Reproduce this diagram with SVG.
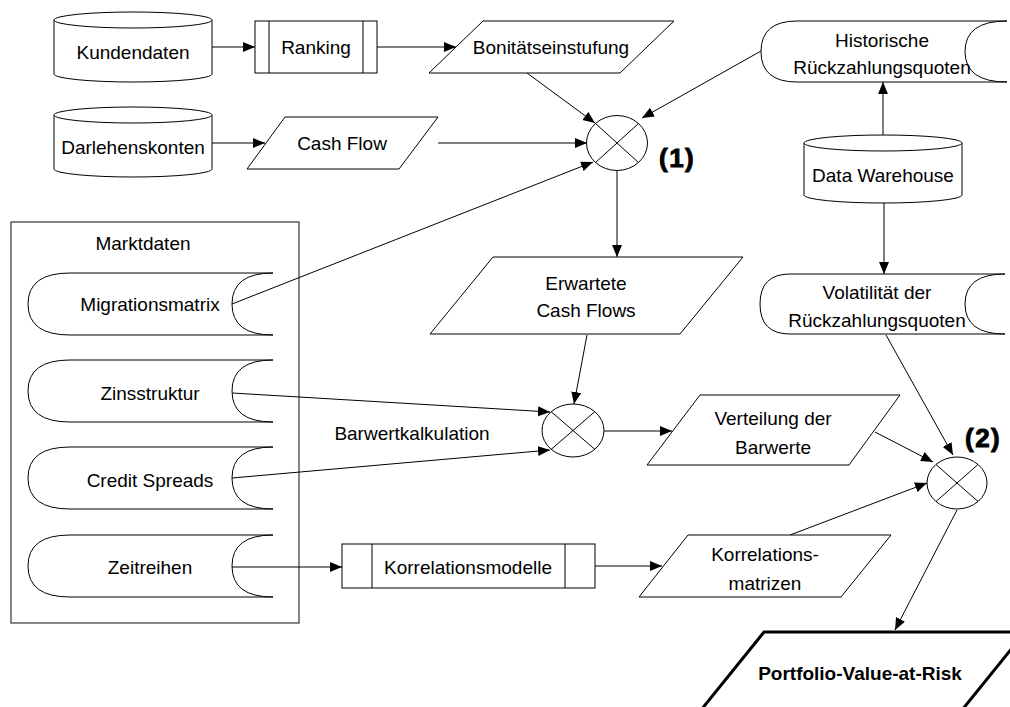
<svg xmlns="http://www.w3.org/2000/svg" width="1010" height="707" viewBox="0 0 1010 707">
<defs>
<marker id="arr" markerUnits="userSpaceOnUse" markerWidth="13" markerHeight="11" refX="12" refY="5" orient="auto">
<path d="M0,0 L12,5 L0,10 Z" fill="#000"/>
</marker>
<style>
.s{fill:#fff;stroke:#000;stroke-width:1}
.t{font-family:"Liberation Sans",Arial,sans-serif;font-size:19px;fill:#000;text-anchor:middle}
.b{font-weight:bold}
.n{font-family:"Liberation Sans",Arial,sans-serif;font-size:26px;font-weight:bold;fill:#000;stroke:#000;stroke-width:0.9;letter-spacing:1.5px}
.c{fill:none;stroke:#000;stroke-width:1;marker-end:url(#arr)}
.l{fill:none;stroke:#000;stroke-width:1}
</style>
</defs>
<rect width="1010" height="707" fill="#fff"/>

<g id="marktdaten">
<rect x="11" y="222" width="288" height="401" fill="#fff" stroke="#444" stroke-width="1.3"/>
<text class="t" x="143" y="250">Marktdaten</text>
</g>

<g id="connectors">
<line class="c" x1="212" y1="47" x2="255" y2="47"/>
<line class="c" x1="377" y1="47" x2="456" y2="47"/>
<line class="c" x1="212" y1="143" x2="265" y2="143"/>
<line class="c" x1="438" y1="143" x2="587" y2="143"/>
<line class="c" x1="527" y1="73" x2="595" y2="123"/>
<line class="c" x1="761" y1="51" x2="642" y2="118"/>
<line class="c" x1="232" y1="304" x2="593" y2="162"/>
<line class="c" x1="883" y1="135" x2="883" y2="82"/>
<line class="c" x1="884" y1="203" x2="884" y2="274"/>
<line class="c" x1="617" y1="171" x2="617" y2="257"/>
<line class="c" x1="587" y1="335" x2="574" y2="404"/>
<line class="c" x1="232" y1="393" x2="550" y2="412"/>
<line class="c" x1="232" y1="478" x2="550" y2="450"/>
<line class="c" x1="604" y1="431" x2="672" y2="431"/>
<line class="c" x1="232" y1="567" x2="342" y2="567"/>
<line class="c" x1="595" y1="566" x2="662" y2="566"/>
<line class="c" x1="875" y1="432" x2="933" y2="462"/>
<line class="c" x1="886" y1="335" x2="953" y2="455"/>
<line class="c" x1="790" y1="535" x2="927" y2="483"/>
<line class="c" x1="957" y1="510" x2="895" y2="630"/>
</g>

<g id="kundendaten">
<path class="s" d="M54,20 L54,74 A79,8 0 0 0 212,74 L212,20"/>
<ellipse class="s" cx="133" cy="20" rx="79" ry="8"/>
<text class="t" x="133" y="59">Kundendaten</text>
</g>

<g id="ranking">
<rect class="s" x="255" y="21" width="122" height="52"/>
<line class="l" x1="269" y1="21" x2="269" y2="73"/>
<line class="l" x1="363" y1="21" x2="363" y2="73"/>
<text class="t" x="316" y="54">Ranking</text>
</g>

<g id="bonitaet">
<path class="s" d="M483,21 L674,21 L620,73 L429,73 Z"/>
<text class="t" x="551" y="54">Bonitätseinstufung</text>
</g>

<g id="darlehenskonten">
<path class="s" d="M54,115 L54,169 A79,8 0 0 0 212,169 L212,115"/>
<ellipse class="s" cx="133" cy="115" rx="79" ry="8"/>
<text class="t" x="133" y="154">Darlehenskonten</text>
</g>

<g id="cashflow">
<path class="s" d="M285,117 L438,117 L399,169 L247,169 Z"/>
<text class="t" x="342" y="150">Cash Flow</text>
</g>

<g id="merge1">
<ellipse class="s" cx="617" cy="143" rx="30.5" ry="27.5"/>
<line class="l" x1="595.5" y1="123.5" x2="638.5" y2="162.5"/>
<line class="l" x1="638.5" y1="123.5" x2="595.5" y2="162.5"/>
<text class="n" x="659" y="167">(1)</text>
</g>

<g id="historische">
<path class="s" d="M797,21 L1007,21 Q965,21 965,51.5 Q965,82 1007,82 L797,82 Q761,82 761,51.5 Q761,21 797,21 Z"/>
<text class="t" x="882" y="47">Historische</text>
<text class="t" x="882" y="74">Rückzahlungsquoten</text>
</g>

<g id="datawarehouse">
<path class="s" d="M804,143 L804,195 A79,8 0 0 0 962,195 L962,143"/>
<ellipse class="s" cx="883" cy="143" rx="79" ry="8"/>
<text class="t" x="883" y="182">Data Warehouse</text>
</g>

<g id="migrationsmatrix">
<path class="s" d="M70,273 L273,273 Q232,273 232,304 Q232,335 273,335 L70,335 Q28,335 28,304 Q28,273 70,273 Z"/>
<text class="t" x="150" y="311">Migrationsmatrix</text>
</g>

<g id="zinsstruktur">
<path class="s" d="M70,360 L273,360 Q232,360 232,391 Q232,422 273,422 L70,422 Q28,422 28,391 Q28,360 70,360 Z"/>
<text class="t" x="150" y="400">Zinsstruktur</text>
</g>

<g id="creditspreads">
<path class="s" d="M70,447 L273,447 Q232,447 232,478 Q232,509 273,509 L70,509 Q28,509 28,478 Q28,447 70,447 Z"/>
<text class="t" x="150" y="487">Credit Spreads</text>
</g>

<g id="zeitreihen">
<path class="s" d="M70,535 L273,535 Q232,535 232,566 Q232,597 273,597 L70,597 Q28,597 28,566 Q28,535 70,535 Z"/>
<text class="t" x="150" y="574">Zeitreihen</text>
</g>

<g id="erwartete">
<path class="s" d="M493,257 L743,257 L680,334 L430,334 Z"/>
<text class="t" x="586" y="290">Erwartete</text>
<text class="t" x="586" y="317">Cash Flows</text>
</g>

<g id="volatilitaet">
<path class="s" d="M790,274 L1005,274 Q965,274 965,304 Q965,334 1005,334 L790,334 Q760,334 760,304 Q760,274 790,274 Z"/>
<text class="t" x="877" y="299">Volatilität der</text>
<text class="t" x="877" y="327">Rückzahlungsquoten</text>
</g>

<g id="barwert">
<ellipse class="s" cx="573" cy="430.5" rx="31" ry="26.5"/>
<line class="l" x1="551" y1="411.5" x2="595" y2="449.5"/>
<line class="l" x1="595" y1="411.5" x2="551" y2="449.5"/>
<text class="t" x="412" y="440">Barwertkalkulation</text>
</g>

<g id="verteilung">
<path class="s" d="M700,395 L900,395 L849,465 L647,465 Z"/>
<text class="t" x="773" y="425">Verteilung der</text>
<text class="t" x="773" y="454">Barwerte</text>
</g>

<g id="merge2">
<ellipse class="s" cx="957" cy="483" rx="30" ry="26"/>
<line class="l" x1="936" y1="464.5" x2="978" y2="501.5"/>
<line class="l" x1="978" y1="464.5" x2="936" y2="501.5"/>
<text class="n" x="965" y="447">(2)</text>
</g>

<g id="korrelationsmodelle">
<rect class="s" x="342" y="544" width="253" height="44"/>
<line class="l" x1="372" y1="544" x2="372" y2="588"/>
<line class="l" x1="565" y1="544" x2="565" y2="588"/>
<text class="t" x="468" y="574">Korrelationsmodelle</text>
</g>

<g id="korrelationsmatrizen">
<path class="s" d="M688,535 L891,535 L841,597 L639,597 Z"/>
<text class="t" x="765" y="561">Korrelations-</text>
<text class="t" x="765" y="590">matrizen</text>
</g>

<g id="portfolio">
<path d="M1025,632 L764,632 L697,715 M1025,632 L958,715" fill="#fff" stroke="#000" stroke-width="3"/>
<text class="t b" x="860" y="680">Portfolio-Value-at-Risk</text>
</g>
</svg>
